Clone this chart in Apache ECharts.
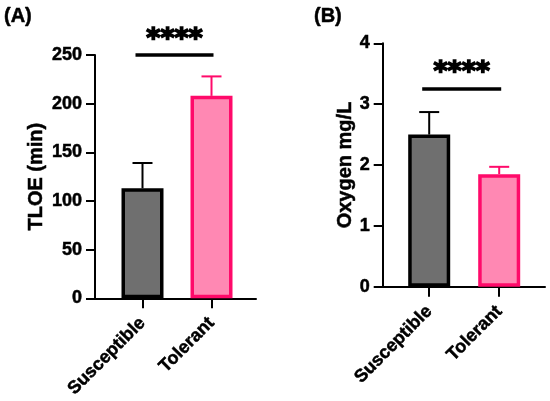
<!DOCTYPE html>
<html>
<head>
<meta charset="utf-8">
<script src="https://cdn.jsdelivr.net/npm/echarts@6/dist/echarts.min.js"></script>
<style>
  html, body { margin: 0; padding: 0; background: #fff; }
  #chart { width: 550px; height: 401px; }
</style>
</head>
<body>
<div id="chart"></div>
<script>
var groups = ['Susceptible', 'Tolerant'];
// panel A: TLOE (min)
var tloeMean = [113, 208];
var tloeErr = [139, 228];
var tloeTicks = [0, 50, 100, 150, 200, 250];
// panel B: oxygen mg/L
var oxyMean = [2.5, 1.85];
var oxyErr = [2.87, 1.97];
var oxyTicks = [0, 1, 2, 3, 4];
var sigA = 250, sigB = 3.25;

var fills = ['#6f6f6f', '#ff88b3'];
var borders = ['#000000', '#ff0a6a'];
var font = 'Liberation Sans, Arial, sans-serif';
// slightly heavier bold, like the printed figure
var heavy = { textBorderColor: '#000', textBorderWidth: 0.5 };

var chart = echarts.init(document.getElementById('chart'));

function barData(vals) {
    return vals.map(function (v, i) {
        return {
            value: v,
            itemStyle: { color: fills[i], borderColor: borders[i], borderWidth: 3.5 }
        };
    });
}

function errData(mean, err) {
    return mean.map(function (m, i) { return [i, m, err[i]]; });
}

function renderErr(params, api) {
    var i = api.value(0);
    var lo = api.coord([i, api.value(1)]);
    var hi = api.coord([i, api.value(2)]);
    var st = { stroke: borders[i], lineWidth: 2 };
    return {
        type: 'group',
        children: [
            { type: 'line', shape: { x1: lo[0], y1: lo[1], x2: hi[0], y2: hi[1] }, style: st },
            { type: 'line', shape: { x1: hi[0] - 10, y1: hi[1], x2: hi[0] + 10, y2: hi[1] }, style: st }
        ]
    };
}

function renderSig(params, api) {
    var a = api.coord([0, api.value(2)]);
    var b = api.coord([1, api.value(2)]);
    var x1 = a[0] - 7, x2 = b[0] + 2;
    return {
        type: 'group',
        children: [
            { type: 'line', shape: { x1: x1, y1: a[1], x2: x2, y2: a[1] },
              style: { stroke: '#000', lineWidth: 3.5 } },
            { type: 'text', x: (x1 + x2) / 2, y: a[1] - 2,
              style: { text: '****', font: 'bold 27px DejaVu Sans', fill: '#000',
                       stroke: '#000', lineWidth: 1.6,
                       textAlign: 'center', textVerticalAlign: 'bottom' } }
        ]
    };
}

function frameY(grid, ticks, name, gap) {
    return {
        type: 'value', gridIndex: grid,
        min: ticks[0], max: ticks[ticks.length - 1], interval: ticks[1] - ticks[0],
        name: name, nameLocation: 'middle', nameGap: gap,
        nameTextStyle: Object.assign({ fontFamily: font, fontWeight: 'bold', fontSize: 20, color: '#000' }, heavy),
        axisLine: { show: true, lineStyle: { color: '#000', width: 2 } },
        axisTick: { show: true, length: 9, lineStyle: { color: '#000', width: 2 } },
        axisLabel: Object.assign({ margin: 13, fontFamily: font, fontWeight: 'bold', fontSize: 18, color: '#000' }, heavy),
        splitLine: { show: false }
    };
}

function barY(grid, ticks) {
    return { type: 'value', gridIndex: grid, min: ticks[0], max: ticks[ticks.length - 1], show: false };
}

function frameX(grid) {
    return {
        type: 'value', gridIndex: grid, min: 0, max: 1,
        axisLine: { show: true, onZero: false, lineStyle: { color: '#000', width: 2 } },
        axisTick: { show: false }, axisLabel: { show: false }, splitLine: { show: false }
    };
}

function barX(grid) {
    return {
        type: 'category', gridIndex: grid, data: groups,
        axisLine: { show: false },
        axisTick: { show: true, alignWithLabel: true, length: 10, lineStyle: { color: '#000', width: 2 } },
        axisLabel: Object.assign({ rotate: 45, margin: 22, interval: 0, fontFamily: font, fontWeight: 'bold',
                     fontSize: 18, color: '#000' }, heavy)
    };
}

option = {
    animation: false,
    title: [
        { text: '(A)', left: 4, top: 6, padding: 0,
          textStyle: Object.assign({ fontFamily: font, fontWeight: 'bold', fontSize: 20, color: '#000' }, heavy) },
        { text: '(B)', left: 314, top: 6, padding: 0,
          textStyle: Object.assign({ fontFamily: font, fontWeight: 'bold', fontSize: 20, color: '#000' }, heavy) }
    ],
    grid: [
        { left: 95, top: 55, width: 161, height: 243.3 },
        { left: 108, top: 55, width: 138, height: 243.3 },
        { left: 382.7, top: 43.3, width: 162.3, height: 243.4 },
        { left: 394.2, top: 43.3, width: 140, height: 243.4 }
    ],
    xAxis: [frameX(0), barX(1), frameX(2), barX(3)],
    yAxis: [
        frameY(0, tloeTicks, 'TLOE (min)', 49),
        barY(1, tloeTicks),
        frameY(2, oxyTicks, 'Oxygen mg/L', 27),
        barY(3, oxyTicks)
    ],
    series: [
        { type: 'custom', xAxisIndex: 1, yAxisIndex: 1, z: 1, renderItem: renderErr,
          data: errData(tloeMean, tloeErr) },
        { type: 'bar', xAxisIndex: 1, yAxisIndex: 1, z: 2, barWidth: 42,
          data: barData(tloeMean) },
        { type: 'custom', xAxisIndex: 1, yAxisIndex: 1, z: 3, renderItem: renderSig,
          data: [[0, 1, sigA]] },
        { type: 'custom', xAxisIndex: 3, yAxisIndex: 3, z: 1, renderItem: renderErr,
          data: errData(oxyMean, oxyErr) },
        { type: 'bar', xAxisIndex: 3, yAxisIndex: 3, z: 2, barWidth: 42,
          data: barData(oxyMean) },
        { type: 'custom', xAxisIndex: 3, yAxisIndex: 3, z: 3, renderItem: renderSig,
          data: [[0, 1, sigB]] }
    ]
};

chart.setOption(option);
</script>
</body>
</html>
